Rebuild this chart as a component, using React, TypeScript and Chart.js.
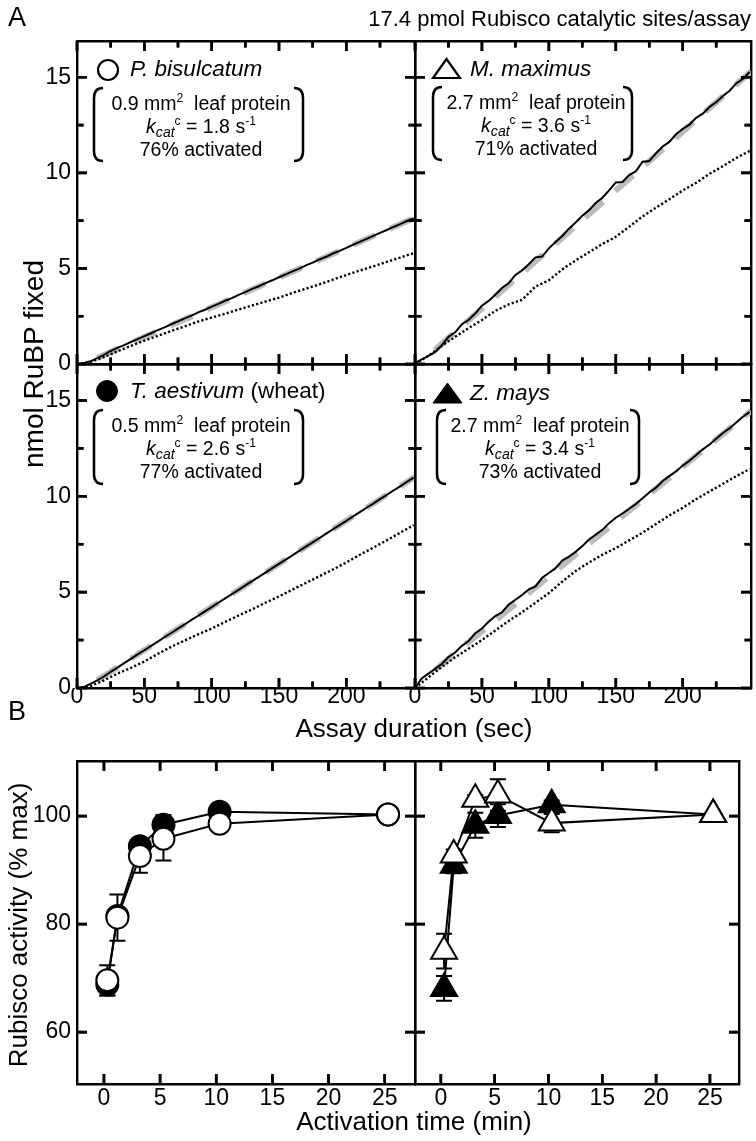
import React, { useCallback, useEffect, useRef, useState } from "react";
import { Chart, registerables } from "chart.js";

Chart.register(...registerables);

const FONT = '"Liberation Sans", Arial, Helvetica, sans-serif';
const W = 756;
const H = 1141;

// ---------------- Panel A : nmol RuBP fixed vs assay duration (sec) ----------------
const assayTime5 = [0,5,10,15,20,25,30,35,40,45,50,55,60,65,70,75,80,85,90,95,100,105,110,115,120,125,130,135,140,145,150,155,160,165,170,175,180,185,190,195,200,205,210,215,220,225,230,235,240,245,250];
const assayTime10 = [0,10,20,30,40,50,60,70,80,90,100,110,120,130,140,150,160,170,180,190,200,210,220,230,240,250];
const fitTime = [15, 251];

// P. bisulcatum
const bisulcatumSolid = [0,0.04,0.14,0.31,0.48,0.68,0.84,0.99,1.15,1.30,1.46,1.61,1.77,1.92,2.08,2.23,2.39,2.53,2.70,2.84,3.00,3.15,3.31,3.45,3.62,3.76,3.93,4.07,4.23,4.38,4.54,4.69,4.85,4.99,5.16,5.30,5.47,5.61,5.78,5.92,6.08,6.24,6.39,6.55,6.70,6.86,7.01,7.17,7.32,7.48,7.63];
const bisulcatumDotted = [0,0.10,0.36,0.66,0.95,1.22,1.47,1.73,1.97,2.22,2.43,2.63,2.85,3.06,3.27,3.47,3.72,3.94,4.17,4.41,4.66,4.89,5.11,5.34,5.57,5.80];
const bisulcatumFit = [0.32, 7.66];

// M. maximus
const maximusSolid = [0.05,0.24,0.42,0.62,0.98,1.42,1.66,2.08,2.30,2.64,3.05,3.30,3.62,3.98,4.22,4.66,4.90,5.22,5.58,5.62,6.05,6.38,6.70,7.08,7.40,7.76,8.05,8.42,8.70,9.08,9.50,9.52,9.88,10.08,10.58,10.62,11.02,11.38,11.62,12.02,12.30,12.52,12.88,13.10,13.45,13.70,14.02,14.30,14.68,14.92,15.28];
const maximusDotted = [0,0.42,0.95,1.42,1.88,2.30,2.78,3.12,3.36,4.05,4.38,4.95,5.42,5.85,6.28,6.66,7.18,7.72,8.18,8.62,9.08,9.48,9.95,10.35,10.78,11.15];
const maximusFit = [0.75, 15.30];

// T. aestivum (wheat)
const wheatSolid = [0,0.05,0.22,0.40,0.60,0.84,1.06,1.30,1.52,1.75,1.97,2.20,2.42,2.65,2.87,3.10,3.32,3.55,3.77,4.00,4.22,4.45,4.67,4.90,5.12,5.35,5.57,5.80,6.02,6.25,6.47,6.70,6.92,7.15,7.37,7.60,7.82,8.05,8.27,8.50,8.72,8.95,9.17,9.40,9.62,9.85,10.07,10.30,10.52,10.75,10.97];
const wheatDotted = [0,0.10,0.40,0.75,1.05,1.38,1.78,2.15,2.48,2.80,3.10,3.45,3.78,4.10,4.45,4.78,5.13,5.48,5.83,6.18,6.55,6.95,7.32,7.70,8.10,8.50];
const wheatFit = [0.40, 11.02];

// Z. mays
const maysSolid = [0,0.50,0.75,1.00,1.25,1.62,1.85,2.20,2.45,2.85,3.10,3.45,3.75,3.95,4.35,4.60,4.85,5.15,5.30,5.75,6.00,6.25,6.65,6.85,7.10,7.40,7.75,8.00,8.25,8.60,8.88,9.10,9.35,9.60,9.90,10.20,10.45,10.80,11.05,11.30,11.60,11.85,12.15,12.45,12.70,13.00,13.30,13.55,13.85,14.15,14.40];
const maysDotted = [0,0.55,1.10,1.60,2.05,2.50,3.00,3.50,3.95,4.45,4.95,5.55,6.10,6.55,6.95,7.30,7.70,8.10,8.55,9.00,9.40,9.85,10.25,10.65,11.05,11.42];
const maysFit = [0.95, 14.45];

const assayTicksMajor = [0, 50, 100, 150, 200];
const assayTicksMinor = [25, 75, 125, 175, 225];
const rubpTicksMajor = [0, 5, 10, 15];
const rubpTicksMinor = [2.5, 7.5, 12.5];

// ---------------- Panel B : Rubisco activity (% max) vs activation time (min) ----------------
const activationTime = [0.3, 1.2, 3.2, 5.3, 10.3, 25.3];
const bisulcatumActivity = [69.6, 81.2, 92.6, 95.8, 98.6, 100.3];
const bisulcatumErr = [2.8, 4.3, 3.1, 4.0, 1.2, 0];
const wheatActivity = [68.8, 81.5, 94.4, 98.4, 100.8, 100.3];
const wheatErr = [2.0, 1.0, 0.8, 1.8, 0.8, 0];
const maximusActivity = [75.0, 92.8, 103.1, 103.9, 98.7, 100.3];
const maximusErr = [3.2, 1.0, 0.8, 2.9, 1.7, 0];
const maysActivity = [68.1, 90.9, 98.3, 100.1, 102.1, 100.3];
const maysErr = [2.3, 1.5, 2.3, 2.1, 0.8, 0];

const activationTicks = [0, 5, 10, 15, 20, 25];
const activityTicks = [60, 80, 100];

// ---------------------------------------------------------------------------
const xy = (xs: number[], ys: number[]) =>
  xs.slice(0, Math.min(xs.length, ys.length)).map((x, i) => ({ x, y: ys[i] }));

type Box = { left: number; top: number; right: number; bottom: number };
type Seg = [number, number, number, number];

const AX = 50;
const TICK = 10;
const MINOR = 6.5;
const TICK_W = 2.6;

type PlotSpec = {
  box: Box;
  datasets: any[];
  xMin: number;
  xMax: number;
  yMin: number;
  yMax: number;
  xMajor: number[];
  xMinor: number[];
  yMajor: number[];
  yMinor: number[];
  showX: boolean;
  showY: boolean;
  xPad: number;
  errors?: boolean;
};

// inward tick marks, positioned with the chart's own scales
function tickSegments(chart: any, s: PlotSpec): Seg[] {
  const a = chart.chartArea;
  const xs = chart.scales.x;
  const ys = chart.scales.y;
  const out: Seg[] = [];
  const addX = (vals: number[], len: number) =>
    vals.forEach((v) => {
      const p = xs.getPixelForValue(v);
      out.push([p, a.bottom, p, a.bottom - len]);
      out.push([p, a.top, p, a.top + len]);
    });
  const addY = (vals: number[], len: number) =>
    vals.forEach((v) => {
      const p = ys.getPixelForValue(v);
      out.push([a.left, p, a.left + len, p]);
      out.push([a.right, p, a.right - len, p]);
    });
  addX(s.xMajor, TICK);
  addX(s.xMinor, MINOR);
  addY(s.yMajor, TICK);
  addY(s.yMinor, MINOR);
  return out;
}

const makeTickPlugin = (s: PlotSpec) => ({
  id: "inwardTicks",
  afterDraw(chart: any) {
    const ctx = chart.ctx as CanvasRenderingContext2D;
    ctx.save();
    ctx.strokeStyle = "#000";
    ctx.lineWidth = TICK_W;
    ctx.lineCap = "butt";
    ctx.setLineDash([]);
    ctx.beginPath();
    tickSegments(chart, s).forEach((g) => {
      ctx.moveTo(g[0], g[1]);
      ctx.lineTo(g[2], g[3]);
    });
    ctx.stroke();
    ctx.restore();
  },
});

const errorBarPlugin = {
  id: "errorBars",
  beforeDatasetsDraw(chart: any) {
    const { ctx } = chart;
    const xs = chart.scales.x;
    const ys = chart.scales.y;
    ctx.save();
    ctx.strokeStyle = "#000";
    ctx.lineWidth = 2;
    chart.data.datasets.forEach((ds: any) => {
      if (!ds.errors) return;
      ds.data.forEach((p: any, i: number) => {
        const e = ds.errors[i];
        if (!e) return;
        const x = xs.getPixelForValue(p.x);
        const y1 = ys.getPixelForValue(p.y + e);
        const y2 = ys.getPixelForValue(p.y - e);
        ctx.beginPath();
        ctx.moveTo(x, y1);
        ctx.lineTo(x, y2);
        ctx.moveTo(x - 8, y1);
        ctx.lineTo(x + 8, y1);
        ctx.moveTo(x - 8, y2);
        ctx.lineTo(x + 8, y2);
        ctx.stroke();
      });
    });
    ctx.restore();
  },
};

function makeConfig(s: PlotSpec): any {
  const tickFont = { family: FONT, size: 23 };
  const setTicks = (vals: number[]) => (sc: any) => {
    sc.ticks = vals.map((v) => ({ value: v }));
  };
  const border = { display: true, width: 2.4, color: "#000" };
  const noGrid = { display: false, drawTicks: false };
  const tickPlugin = makeTickPlugin(s);
  return {
    type: "line",
    data: { datasets: s.datasets },
    plugins: s.errors ? [errorBarPlugin, tickPlugin] : [tickPlugin],
    options: {
      responsive: false,
      animation: false,
      events: [],
      layout: {
        padding: {
          left: s.box.left - AX,
          top: s.box.top,
          right: W - s.box.right,
          bottom: H - s.box.bottom - AX,
        },
      },
      plugins: { legend: { display: false }, tooltip: { enabled: false } },
      elements: { line: { tension: 0 } },
      scales: {
        x: {
          type: "linear",
          position: "bottom",
          min: s.xMin,
          max: s.xMax,
          grid: noGrid,
          border,
          ticks: {
            display: s.showX,
            font: tickFont,
            color: "#000",
            padding: s.xPad,
            maxRotation: 0,
            autoSkip: false,
            callback: (v: any) => String(v),
          },
          afterBuildTicks: setTicks(s.xMajor),
          afterFit: (sc: any) => {
            sc.height = AX;
          },
        },
        xTop: {
          type: "linear",
          position: "top",
          min: s.xMin,
          max: s.xMax,
          grid: noGrid,
          border,
          ticks: { display: false },
          afterFit: (sc: any) => {
            sc.height = 0;
          },
        },
        y: {
          type: "linear",
          position: "left",
          min: s.yMin,
          max: s.yMax,
          grid: noGrid,
          border,
          ticks: {
            display: s.showY,
            font: tickFont,
            color: "#000",
            padding: 6,
            autoSkip: false,
            callback: (v: any) => String(v),
          },
          afterBuildTicks: setTicks(s.yMajor),
          afterFit: (sc: any) => {
            sc.width = AX;
          },
        },
        yRight: {
          type: "linear",
          position: "right",
          min: s.yMin,
          max: s.yMax,
          grid: noGrid,
          border,
          ticks: { display: false },
          afterFit: (sc: any) => {
            sc.width = 0;
          },
        },
      },
    },
  };
}

const traceSets = (solid: number[], dotted: number[], fit: number[]) => [
  { data: xy(assayTime5, solid), borderColor: "#000", borderWidth: 2, pointRadius: 0, fill: false, xAxisID: "x", yAxisID: "y" },
  { data: xy(assayTime10, dotted), borderColor: "#000", borderWidth: 2.4, borderDash: [2.2, 2.2], pointRadius: 0, fill: false, xAxisID: "x", yAxisID: "y" },
  { data: xy(fitTime, fit), borderColor: "#bcbcbc", borderWidth: 6, borderDash: [24, 16], pointRadius: 0, fill: false, xAxisID: "x", yAxisID: "y" },
];

const markerSet = (vals: number[], errs: number[], style: string, filled: boolean) => ({
  data: xy(activationTime, vals),
  errors: errs,
  xAxisID: "x",
  yAxisID: "y",
  borderColor: "#000",
  borderWidth: 2,
  pointStyle: style,
  pointRadius: style === "triangle" ? 15 : 11,
  pointBorderWidth: 2,
  pointBorderColor: "#000",
  pointBackgroundColor: filled ? "#000" : "#fff",
  fill: false,
});

const A_L = 77, A_M = 415, A_R = 751, A_T = 41, A_MID = 364, A_B = 688;
const B_T = 761, B_B = 1084;

const aAxes = {
  xMin: 0, xMax: 251, yMin: 0, yMax: 16.9,
  xMajor: assayTicksMajor, xMinor: assayTicksMinor, yMajor: rubpTicksMajor, yMinor: rubpTicksMinor,
};
const bAxes = {
  xMin: -2.4, xMax: 27.7, yMin: 50.4, yMax: 110.2,
  xMajor: activationTicks, xMinor: [] as number[], yMajor: activityTicks, yMinor: [] as number[],
};

const plotSpecs: (() => PlotSpec)[] = [
  () => ({
    box: { left: A_L, top: A_T, right: A_M, bottom: A_MID },
    datasets: traceSets(bisulcatumSolid, bisulcatumDotted, bisulcatumFit),
    ...aAxes, showX: false, showY: true, xPad: -5,
  }),
  () => ({
    box: { left: A_M, top: A_T, right: A_R, bottom: A_MID },
    datasets: traceSets(maximusSolid, maximusDotted, maximusFit),
    ...aAxes, showX: false, showY: false, xPad: -5,
  }),
  () => ({
    box: { left: A_L, top: A_MID, right: A_M, bottom: A_B },
    datasets: traceSets(wheatSolid, wheatDotted, wheatFit),
    ...aAxes, showX: true, showY: true, xPad: -5,
  }),
  () => ({
    box: { left: A_M, top: A_MID, right: A_R, bottom: A_B },
    datasets: traceSets(maysSolid, maysDotted, maysFit),
    ...aAxes, showX: true, showY: false, xPad: -5,
  }),
  () => ({
    box: { left: A_L, top: B_T, right: A_M, bottom: B_B },
    datasets: [
      markerSet(bisulcatumActivity, bisulcatumErr, "circle", false),
      markerSet(wheatActivity, wheatErr, "circle", true),
    ],
    ...bAxes, showX: true, showY: true, xPad: 1, errors: true,
  }),
  () => ({
    box: { left: A_M, top: B_T, right: A_R, bottom: B_B },
    datasets: [
      markerSet(maximusActivity, maximusErr, "triangle", false),
      markerSet(maysActivity, maysErr, "triangle", true),
    ],
    ...bAxes, showX: true, showY: false, xPad: 1, errors: true,
  }),
];

function ChartLayer({ spec, index, onTicks }: { spec: () => PlotSpec; index: number; onTicks: (i: number, s: Seg[]) => void }) {
  const ref = useRef<HTMLCanvasElement>(null);
  useEffect(() => {
    if (!ref.current) return;
    const s = spec();
    const chart = new Chart(ref.current, makeConfig(s));
    onTicks(index, tickSegments(chart, s));
    return () => chart.destroy();
  }, [spec, index, onTicks]);
  return (
    <canvas
      ref={ref}
      width={W}
      height={H}
      style={{ position: "absolute", left: 0, top: 0, width: W, height: H }}
    />
  );
}

const sup: React.CSSProperties = { fontSize: "0.62em", position: "relative", top: "-0.6em" };
const sub: React.CSSProperties = { fontSize: "0.72em", position: "relative", top: "0.32em" };

function Label({ x, y, size, children, align = "center", rotate = false, style = {} }: any) {
  const tx = align === "center" ? "-50%" : align === "right" ? "-100%" : "0";
  return (
    <div
      style={{
        position: "absolute",
        left: x,
        top: y,
        transform: `translate(${tx}, -50%)${rotate ? " rotate(-90deg)" : ""}`,
        transformOrigin: rotate ? "center center" : undefined,
        fontFamily: FONT,
        fontSize: size,
        lineHeight: 1,
        whiteSpace: "nowrap",
        color: "#000",
        ...style,
      }}
    >
      {children}
    </div>
  );
}

function Note({ cx, top, area, kcat, act }: any) {
  const lineStyle: React.CSSProperties = { height: 23, lineHeight: "23px", textAlign: "center" };
  return (
    <div
      style={{
        position: "absolute",
        left: cx,
        top: top + 3.5,
        transform: "translateX(-50%)",
        fontFamily: FONT,
        fontSize: 19.5,
        whiteSpace: "nowrap",
        color: "#000",
      }}
    >
      <div style={lineStyle}>
        {area} mm<span style={sup}>2</span>{"\u00a0 "}leaf protein
      </div>
      <div style={lineStyle}>
        <i>k</i>
        <span style={sub}>
          <i>cat</i>
        </span>
        <span style={sup}>c</span> = {kcat} s<span style={sup}>-1</span>
      </div>
      <div style={lineStyle}>{act}% activated</div>
    </div>
  );
}

const bracketPath = (l: number, r: number, t: number, b: number) => {
  const c = 9;
  const left = `M ${l + c} ${t} Q ${l} ${t} ${l} ${t + 10} L ${l} ${b - 10} Q ${l} ${b} ${l + c} ${b}`;
  const right = `M ${r - c} ${t} Q ${r} ${t} ${r} ${t + 10} L ${r} ${b - 10} Q ${r} ${b} ${r - c} ${b}`;
  return left + " " + right;
};

export default function App() {
  const [ticks, setTicks] = useState<Record<number, Seg[]>>({});
  const onTicks = useCallback((i: number, s: Seg[]) => {
    setTicks((prev) => ({ ...prev, [i]: s }));
  }, []);
  const brackets = [
    { l: 94, r: 303, t: 88, b: 161 },
    { l: 433, r: 632, t: 87, b: 160 },
    { l: 94, r: 303, t: 410, b: 484 },
    { l: 437, r: 639, t: 410, b: 484 },
  ];
  const allSegs: Seg[] = Object.keys(ticks).reduce((acc: Seg[], k) => acc.concat(ticks[Number(k)]), []);
  return (
    <div style={{ position: "absolute", left: 0, top: 0, width: W, height: H, background: "#fff", overflow: "hidden" }}>
      {plotSpecs.map((s, i) => (
        <ChartLayer key={i} spec={s} index={i} onTicks={onTicks} />
      ))}
      <svg width={W} height={H} style={{ position: "absolute", left: 0, top: 0 }}>
        {allSegs.map((g, i) => (
          <line key={"t" + i} x1={g[0]} y1={g[1]} x2={g[2]} y2={g[3]} stroke="#000" strokeWidth={TICK_W} />
        ))}
        {brackets.map((b, i) => (
          <path key={i} d={bracketPath(b.l, b.r, b.t, b.b)} fill="none" stroke="#000" strokeWidth={2.5} />
        ))}
        <circle cx={108} cy={70} r={10} fill="#fff" stroke="#000" strokeWidth={2.2} />
        <polygon points="433,78 446.5,59 460,78" fill="#fff" stroke="#000" strokeWidth={2.2} strokeLinejoin="miter" />
        <circle cx={107} cy={391} r={10.5} fill="#000" stroke="#000" strokeWidth={1} />
        <polygon points="433,403 447.5,383 462,403" fill="#000" stroke="#000" strokeWidth={1} />
      </svg>

      <Label x={8} y={17} size={27} align="left">A</Label>
      <Label x={8} y={711} size={27} align="left">B</Label>
      <Label x={751} y={19} size={22} align="right">17.4 pmol Rubisco catalytic sites/assay</Label>

      <Label x={130} y={69} size={22.5} align="left"><i>P. bisulcatum</i></Label>
      <Label x={470} y={69} size={22.5} align="left"><i>M. maximus</i></Label>
      <Label x={130} y={391} size={22.5} align="left"><i>T. aestivum</i> (wheat)</Label>
      <Label x={470} y={393} size={22.5} align="left"><i>Z. mays</i></Label>

      <Note cx={201} top={88} area="0.9" kcat="1.8" act="76" />
      <Note cx={536} top={87} area="2.7" kcat="3.6" act="71" />
      <Note cx={201} top={410} area="0.5" kcat="2.6" act="77" />
      <Note cx={540} top={410} area="2.7" kcat="3.4" act="73" />

      <Label x={34} y={364} size={28} rotate>nmol RuBP fixed</Label>
      <Label x={414} y={728} size={26}>Assay duration (sec)</Label>
      <Label x={18} y={925} size={26} rotate>Rubisco activity (% max)</Label>
      <Label x={414} y={1121} size={26}>Activation time (min)</Label>
    </div>
  );
}
